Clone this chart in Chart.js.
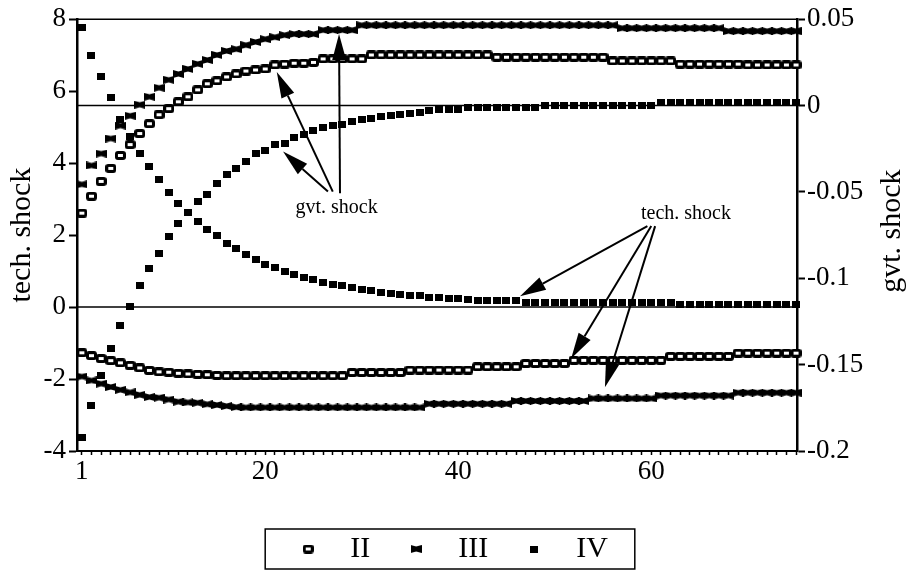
<!DOCTYPE html>
<html lang="en">
<head>
<meta charset="utf-8">
<title>tech. shock / gvt. shock</title>
<script src="https://cdn.jsdelivr.net/npm/chart.js@4.4.1/dist/chart.umd.min.js"></script>
<style>
  html, body { margin: 0; padding: 0; background: #fff; }
  #caixa { position: relative; width: 913px; height: 584px; }
</style>
</head>
<body>
<div id="caixa"><canvas id="choques"></canvas></div>
<script>
// periodos no eixo x e rotulos
const periodos = [1, 2, 3, 4, 5, 6, 7, 8, 9, 10, 11, 12, 13, 14, 15, 16, 17, 18, 19, 20,
  21, 22, 23, 24, 25, 26, 27, 28, 29, 30, 31, 32, 33, 34, 35, 36, 37, 38, 39, 40,
  41, 42, 43, 44, 45, 46, 47, 48, 49, 50, 51, 52, 53, 54, 55, 56, 57, 58, 59, 60,
  61, 62, 63, 64, 65, 66, 67, 68, 69, 70, 71, 72, 73, 74, 75];
const rotulosX = [1, 20, 40, 60];
const ticksTech = [-4, -2, 0, 2, 4, 6, 8];
const ticksGvt = [-0.2, -0.15, -0.1, -0.05, 0, 0.05];

// resposta ao choque tecnologico (eixo da esquerda)
const techII = [-1.27, -1.35, -1.43, -1.49, -1.55, -1.62, -1.69, -1.76, -1.8, -1.81,
  -1.84, -1.86, -1.87, -1.88, -1.9, -1.91, -1.91, -1.91, -1.91, -1.91,
  -1.91, -1.91, -1.91, -1.91, -1.91, -1.91, -1.91, -1.91, -1.82, -1.82,
  -1.82, -1.82, -1.82, -1.82, -1.75, -1.75, -1.75, -1.75, -1.75, -1.75,
  -1.75, -1.66, -1.66, -1.66, -1.66, -1.66, -1.57, -1.57, -1.57, -1.57,
  -1.57, -1.48, -1.48, -1.48, -1.48, -1.48, -1.48, -1.48, -1.48, -1.48,
  -1.48, -1.37, -1.37, -1.37, -1.37, -1.37, -1.37, -1.37, -1.28, -1.28,
  -1.28, -1.28, -1.28, -1.28, -1.28];
const techIII = [-1.93, -2.04, -2.13, -2.22, -2.3, -2.37, -2.44, -2.5, -2.52, -2.57,
  -2.63, -2.65, -2.66, -2.7, -2.72, -2.75, -2.78, -2.79, -2.79, -2.79,
  -2.79, -2.79, -2.79, -2.79, -2.79, -2.79, -2.79, -2.79, -2.79, -2.79,
  -2.79, -2.79, -2.79, -2.79, -2.79, -2.79, -2.69, -2.69, -2.69, -2.69,
  -2.69, -2.69, -2.69, -2.69, -2.69, -2.61, -2.61, -2.61, -2.61, -2.61,
  -2.61, -2.61, -2.61, -2.54, -2.54, -2.54, -2.54, -2.54, -2.54, -2.54,
  -2.46, -2.46, -2.46, -2.46, -2.46, -2.46, -2.46, -2.46, -2.38, -2.38,
  -2.38, -2.38, -2.38, -2.38, -2.38];
const techIV = [7.76, 6.99, 6.41, 5.83, 5.22, 4.75, 4.28, 3.9, 3.54, 3.18,
  2.87, 2.62, 2.38, 2.15, 1.98, 1.78, 1.63, 1.46, 1.33, 1.19,
  1.1, 0.98, 0.9, 0.83, 0.77, 0.68, 0.62, 0.6, 0.53, 0.48,
  0.46, 0.4, 0.39, 0.34, 0.33, 0.32, 0.27, 0.26, 0.25, 0.25,
  0.2, 0.19, 0.19, 0.19, 0.18, 0.18, 0.13, 0.13, 0.13, 0.13,
  0.13, 0.13, 0.13, 0.13, 0.13, 0.13, 0.13, 0.13, 0.13, 0.13,
  0.13, 0.13, 0.07, 0.07, 0.07, 0.07, 0.07, 0.07, 0.07, 0.07,
  0.07, 0.07, 0.07, 0.07, 0.07];

// resposta ao choque de governo (eixo da direita)
const gvtII = [-0.0623, -0.0525, -0.0439, -0.0364, -0.0289, -0.0226, -0.0162, -0.0105, -0.0053, -0.0018,
  0.0022, 0.0051, 0.0091, 0.0126, 0.0143, 0.0166, 0.0183, 0.02, 0.0206, 0.0212,
  0.0235, 0.024, 0.0245, 0.0245, 0.025, 0.027, 0.027, 0.027, 0.027, 0.027,
  0.0293, 0.0293, 0.0293, 0.0293, 0.0293, 0.0293, 0.0293, 0.0293, 0.0293, 0.0293,
  0.0293, 0.0293, 0.0293, 0.028, 0.028, 0.028, 0.028, 0.028, 0.028, 0.028,
  0.028, 0.028, 0.028, 0.028, 0.028, 0.0258, 0.0258, 0.0258, 0.0258, 0.0258,
  0.0258, 0.0258, 0.024, 0.024, 0.024, 0.024, 0.024, 0.024, 0.024, 0.0235,
  0.0235, 0.0235, 0.0235, 0.0235, 0.0235];
const gvtIII = [-0.0456, -0.0347, -0.0278, -0.0191, -0.0116, -0.0059, 0.0005, 0.0051, 0.0103, 0.0149,
  0.0183, 0.0212, 0.0241, 0.0264, 0.0293, 0.0316, 0.0327, 0.035, 0.0368, 0.0385,
  0.0396, 0.0408, 0.0414, 0.0414, 0.0414, 0.0437, 0.0437, 0.0437, 0.0437, 0.0465,
  0.0465, 0.0465, 0.0465, 0.0465, 0.0465, 0.0465, 0.0465, 0.0465, 0.0465, 0.0465,
  0.0465, 0.0465, 0.0465, 0.0465, 0.0465, 0.0465, 0.0465, 0.0465, 0.0465, 0.0465,
  0.0465, 0.0465, 0.0465, 0.0465, 0.0465, 0.0465, 0.0448, 0.0448, 0.0448, 0.0448,
  0.0448, 0.0448, 0.0448, 0.0448, 0.0448, 0.0448, 0.0448, 0.0431, 0.0431, 0.0431,
  0.0431, 0.0431, 0.0431, 0.0431, 0.0431];
const gvtIV = [-0.192, -0.1735, -0.156, -0.1407, -0.1274, -0.1165, -0.1044, -0.0946, -0.0854, -0.0756,
  -0.0681, -0.0617, -0.0554, -0.0514, -0.045, -0.0399, -0.0364, -0.0324, -0.0278, -0.026,
  -0.0226, -0.022, -0.0185, -0.0168, -0.0145, -0.0128, -0.0116, -0.011, -0.0093, -0.0082,
  -0.0076, -0.0064, -0.0059, -0.0053, -0.0047, -0.0041, -0.003, -0.0024, -0.0024, -0.0024,
  -0.0013, -0.0013, -0.0013, -0.0013, -0.0013, -0.0013, -0.0013, -0.0013, 0, 0,
  0, 0, 0, 0, 0, 0, 0, 0, 0, 0,
  0.0015, 0.0015, 0.0015, 0.0015, 0.0015, 0.0015, 0.0015, 0.0015, 0.0015, 0.0015,
  0.0015, 0.0015, 0.0015, 0.0015, 0.0015];

// anotacoes (em coordenadas dos dados, eixo da esquerda)
const notaGvt = { texto: 'gvt. shock', x: 27.4, y: 2.62 };
const setasGvt = [
  { x0: 27.75, y0: 3.16, x1: 27.65, y1: 7.59 },
  { x0: 27.0, y0: 3.21, x1: 21.2, y1: 6.53 },
  { x0: 26.5, y0: 3.21, x1: 21.85, y1: 4.32 }
];
const notaTech = { texto: 'tech. shock', x: 63.6, y: 2.44 };
const setasTech = [
  { x0: 59.6, y0: 2.25, x1: 46.4, y1: 0.3 },
  { x0: 60.0, y0: 2.25, x1: 51.7, y1: -1.43 },
  { x0: 60.4, y0: 2.25, x1: 55.2, y1: -2.23 }
];

const fonte = '"Liberation Serif", "Times New Roman", serif';
Chart.defaults.font.family = fonte;
Chart.defaults.color = '#000';

// marcadores
function marcadorII() {
  const c = document.createElement('canvas');
  c.width = 11; c.height = 9;
  const g = c.getContext('2d');
  g.fillStyle = '#000';
  g.beginPath(); g.roundRect(0, 0, 11, 9, 3); g.fill();
  g.fillStyle = '#fff';
  g.fillRect(3, 3, 5, 3);
  return c;
}
function marcadorIII() {
  const c = document.createElement('canvas');
  c.width = 11; c.height = 8;
  const g = c.getContext('2d');
  g.fillStyle = '#000';
  g.beginPath();
  g.moveTo(0, 0); g.lineTo(5.5, 1.6); g.lineTo(11, 0);
  g.lineTo(11, 8); g.lineTo(5.5, 6.4); g.lineTo(0, 8);
  g.closePath(); g.fill();
  return c;
}
function marcadorIV() {
  const c = document.createElement('canvas');
  c.width = 8; c.height = 7;
  const g = c.getContext('2d');
  g.fillStyle = '#000';
  g.fillRect(0, 0, 8, 7);
  return c;
}
const simbolos = { II: marcadorII(), III: marcadorIII(), IV: marcadorIV() };

function serie(nome, valores, eixo) {
  return {
    label: nome,
    data: periodos.map((p, i) => ({ x: p, y: valores[i] })),
    yAxisID: eixo,
    showLine: false,
    pointStyle: simbolos[nome],
    pointRadius: 5,
    pointHoverRadius: 5,
    clip: false
  };
}

function seta(ctx, ax, ay, bx, by) {
  const ang = Math.atan2(by - ay, bx - ax);
  const comp = 26, meia = 7;
  const cx = bx - comp * Math.cos(ang), cy = by - comp * Math.sin(ang);
  ctx.lineWidth = 2;
  ctx.beginPath(); ctx.moveTo(ax, ay); ctx.lineTo(cx, cy); ctx.stroke();
  ctx.beginPath();
  ctx.moveTo(bx, by);
  ctx.lineTo(cx + meia * Math.sin(ang), cy - meia * Math.cos(ang));
  ctx.lineTo(cx - meia * Math.sin(ang), cy + meia * Math.cos(ang));
  ctx.closePath(); ctx.fill();
}

const enfeites = {
  id: 'enfeites',
  afterLayout(chart) {
    chart.legend.left -= 12;
    chart.legend.right -= 12;
  },
  beforeDatasetsDraw(chart) {
    const { ctx, chartArea: a, scales } = chart;
    ctx.save();
    ctx.strokeStyle = '#000';
    ctx.lineWidth = 1.5;
    [a.top, scales.y.getPixelForValue(0), scales.y2.getPixelForValue(0)].forEach(py => {
      ctx.beginPath(); ctx.moveTo(a.left, py); ctx.lineTo(a.right, py); ctx.stroke();
    });
    ctx.restore();
  },
  afterDraw(chart) {
    const { ctx, chartArea: a, scales } = chart;
    const px = v => scales.x.getPixelForValue(v);
    const py = v => scales.y.getPixelForValue(v);
    ctx.save();
    ctx.strokeStyle = '#000';
    ctx.fillStyle = '#000';
    [...setasGvt, ...setasTech].forEach(s => seta(ctx, px(s.x0), py(s.y0), px(s.x1), py(s.y1)));
    ctx.font = '20px ' + fonte;
    ctx.textAlign = 'center';
    ctx.textBaseline = 'alphabetic';
    [notaGvt, notaTech].forEach(n => ctx.fillText(n.texto, px(n.x), py(n.y)));

    // titulo do eixo da direita
    ctx.save();
    ctx.translate(scales.y2.right - 13, (a.top + a.bottom) / 2 - 4);
    ctx.rotate(-Math.PI / 2);
    ctx.font = '30px ' + fonte;
    ctx.fillText('gvt. shock', 0, 0);
    ctx.restore();

    // moldura da legenda
    const hb = chart.legend.legendHitBoxes;
    const ult = hb[hb.length - 1];
    const esq = hb[0].left - 16, dir = ult.left + ult.width + 27;
    ctx.lineWidth = 1.5;
    ctx.strokeRect(esq, hb[0].top - 5, dir - esq, hb[0].height + 10);
    ctx.restore();
  }
};

new Chart(document.getElementById('choques'), {
  type: 'line',
  data: {
    datasets: [
      serie('II', techII, 'y'),
      serie('III', techIII, 'y'),
      serie('IV', techIV, 'y'),
      serie('II', gvtII, 'y2'),
      serie('III', gvtIII, 'y2'),
      serie('IV', gvtIV, 'y2')
    ]
  },
  options: {
    responsive: true,
    maintainAspectRatio: false,
    animation: false,
    devicePixelRatio: 1,
    layout: { padding: { top: 17, bottom: 10, left: 0, right: 0 } },
    plugins: {
      tooltip: { enabled: false },
      legend: {
        position: 'bottom',
        labels: {
          usePointStyle: true,
          pointStyleWidth: 54,
          color: '#000',
          font: { family: fonte, size: 30 },
          padding: 19,
          filter: item => item.datasetIndex < 3
        }
      }
    },
    scales: {
      x: {
        type: 'linear',
        min: 0.5,
        max: 75.1,
        afterBuildTicks: s => { s.ticks = periodos.map(v => ({ value: v })); },
        afterFit: s => { s.height = 64; },
        ticks: {
          autoSkip: false,
          maxRotation: 0,
          minRotation: 0,
          padding: 1,
          font: { size: 27 },
          callback: v => rotulosX.includes(v) ? String(v) : ''
        },
        grid: { drawOnChartArea: false, drawTicks: true, tickLength: 4, color: '#000', tickWidth: 1.5 },
        border: { display: true, color: '#000', width: 2 }
      },
      y: {
        position: 'left',
        min: -4,
        max: 8,
        afterBuildTicks: s => { s.ticks = ticksTech.map(v => ({ value: v })); },
        afterFit: s => { s.width = 77; },
        ticks: { autoSkip: false, padding: 3, font: { size: 27 }, callback: v => String(v) },
        grid: { drawOnChartArea: false, drawTicks: true, tickLength: 8, color: '#000', tickWidth: 2 },
        border: { display: true, color: '#000', width: 2.5 },
        title: { display: true, text: 'tech. shock', font: { size: 30 }, padding: { top: 4, bottom: 0 } }
      },
      y2: {
        position: 'right',
        min: -0.2,
        max: 0.05,
        afterBuildTicks: s => { s.ticks = ticksGvt.map(v => ({ value: v })); },
        afterFit: s => { s.width = 116; },
        ticks: { autoSkip: false, padding: 2, font: { size: 27 }, callback: v => String(v) },
        grid: { drawOnChartArea: false, drawTicks: true, tickLength: 8, color: '#000', tickWidth: 2 },
        border: { display: true, color: '#000', width: 2.5 }
      }
    }
  },
  plugins: [enfeites]
});
</script>
</body>
</html>
